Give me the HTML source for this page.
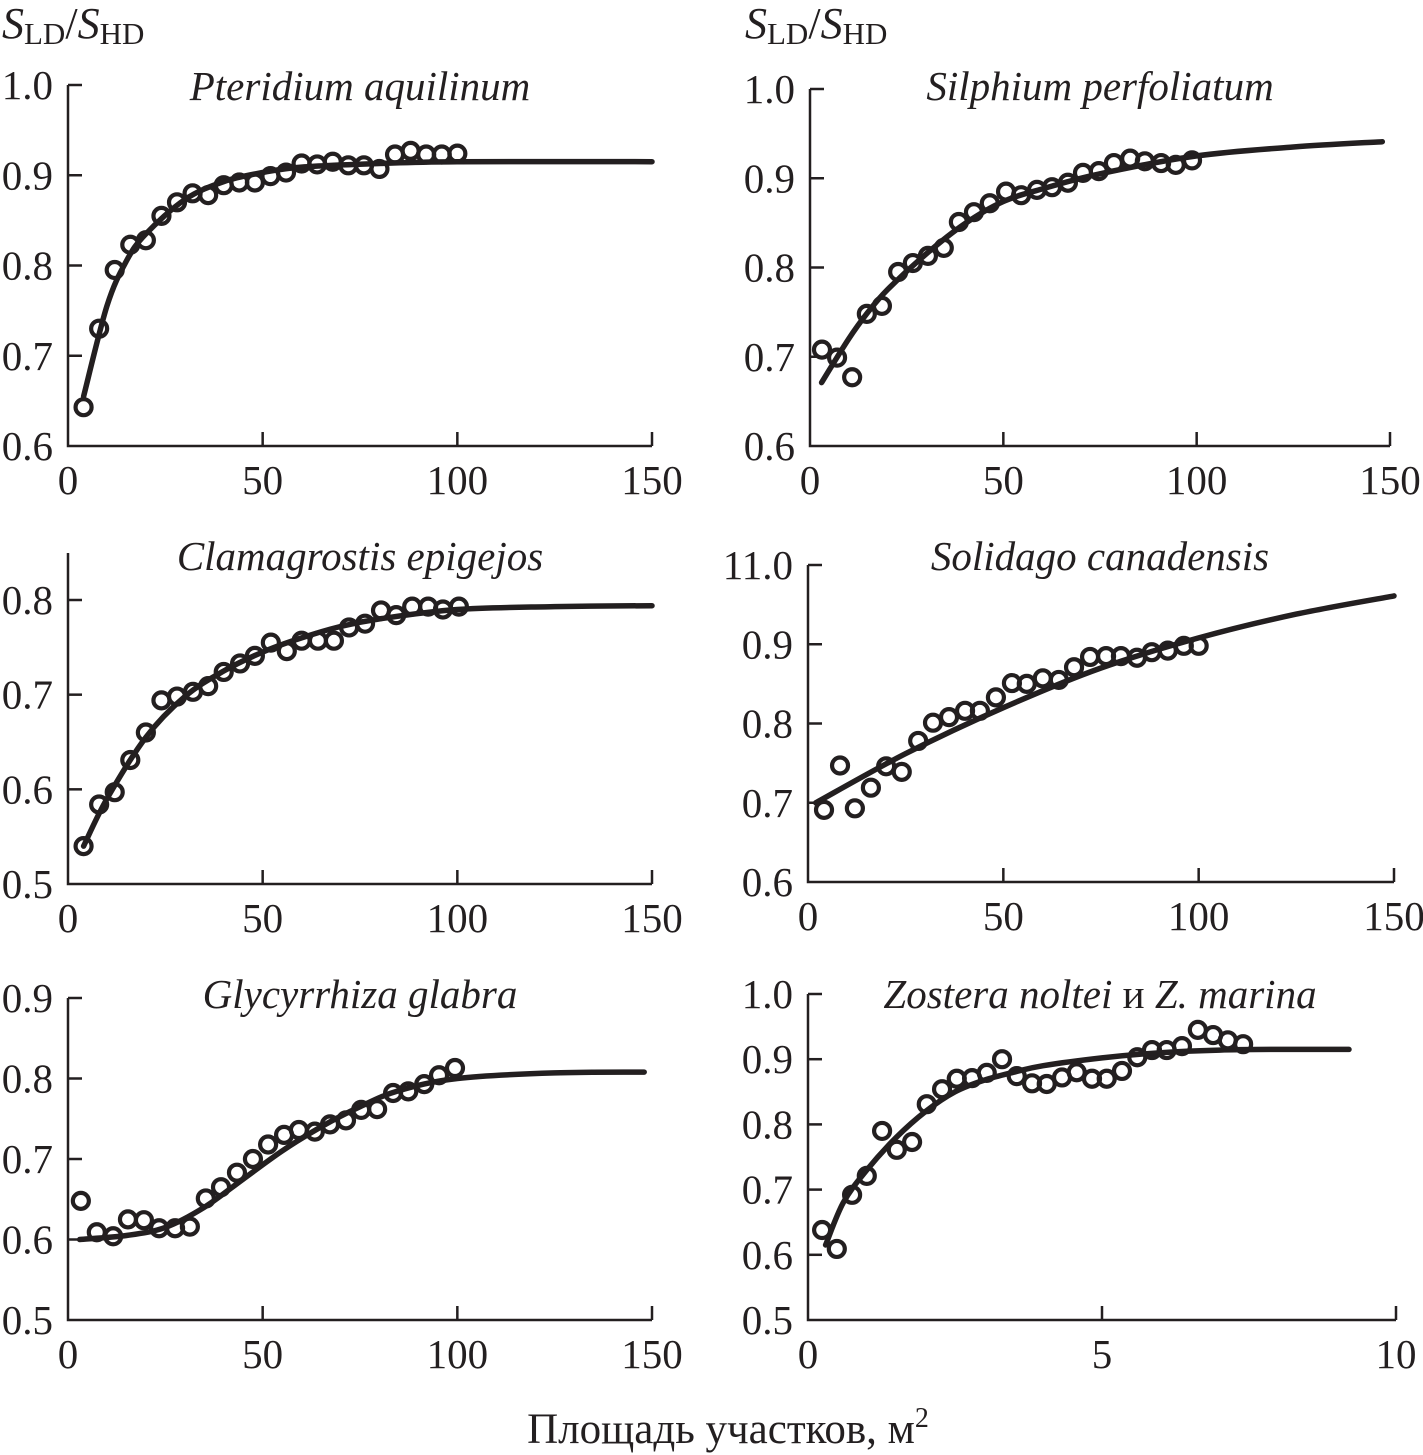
<!DOCTYPE html>
<html><head><meta charset="utf-8">
<style>
html,body{margin:0;padding:0;background:#fff;}
svg{display:block;font-family:"Liberation Serif","Noto Serif CJK SC",serif;}
</style></head>
<body>
<svg id="chart" width="1423" height="1455" viewBox="0 0 1423 1455" xmlns="http://www.w3.org/2000/svg">
<text x="2" y="38" font-size="44" fill="#231f20"><tspan font-style="italic">S</tspan><tspan font-size="31" dy="6">LD</tspan><tspan dy="-6">/</tspan><tspan font-style="italic">S</tspan><tspan font-size="31" dy="6">HD</tspan></text>
<text x="745" y="38" font-size="44" fill="#231f20"><tspan font-style="italic">S</tspan><tspan font-size="31" dy="6">LD</tspan><tspan dy="-6">/</tspan><tspan font-style="italic">S</tspan><tspan font-size="31" dy="6">HD</tspan></text>
<text x="728" y="1443" font-size="43" fill="#231f20" text-anchor="middle">Площадь участков, м<tspan font-size="28" dy="-16">2</tspan></text>
</svg>
<script>
// Panel 1: Pteridium aquilinum
const p1X = [4,8,12,16,20,24,28,32,36,40,44,48,52,56,60,64,68,72,76,80,84,88,92,96,100];
const p1Y = [0.643,0.73,0.795,0.823,0.828,0.855,0.87,0.88,0.878,0.889,0.892,0.892,0.899,0.903,0.913,0.912,0.915,0.911,0.911,0.907,0.923,0.927,0.923,0.923,0.924];
const p1CurveX = [4,10,15,20,30,40,50,60,80,100,150];
const p1CurveY = [0.655,0.755,0.805,0.835,0.873,0.893,0.903,0.909,0.913,0.915,0.915];
// Panel 2: Silphium perfoliatum
const p2X = [3.1,7,10.9,14.7,18.6,22.8,26.6,30.5,34.6,38.5,42.4,46.5,50.7,54.6,58.7,62.6,66.7,70.6,74.7,78.6,82.8,86.6,90.8,94.6,98.8];
const p2Y = [0.708,0.699,0.677,0.748,0.757,0.795,0.805,0.813,0.822,0.851,0.862,0.872,0.885,0.881,0.887,0.89,0.895,0.906,0.908,0.917,0.922,0.919,0.917,0.915,0.92];
const p2CurveX = [3,10,15,20,30,40,50,60,75,100,125,148];
const p2CurveY = [0.671,0.72,0.75,0.775,0.815,0.849,0.874,0.888,0.905,0.925,0.935,0.941];
// Panel 3: Clamagrostis epigejos
const p3X = [4,8,12,16,20,24,28,32.1,36,40,44.2,48,52.1,56.2,60,64.2,68.3,72.2,76.3,80.4,84.3,88.4,92.5,96.3,100.4];
const p3Y = [0.54,0.584,0.597,0.631,0.66,0.694,0.698,0.703,0.709,0.724,0.733,0.741,0.755,0.746,0.757,0.757,0.757,0.771,0.775,0.789,0.784,0.793,0.793,0.79,0.793];
const p3CurveX = [4,10,20,30,40,50,60,70,80,100,125,150];
const p3CurveY = [0.54,0.59,0.655,0.698,0.725,0.745,0.76,0.772,0.78,0.79,0.793,0.794];
// Panel 4: Solidago canadensis
const p4X = [4.1,8.2,12,16.1,20,24,28.2,32,36.1,40.2,44,48.1,52.2,56,60.1,64.2,68.1,72.2,76.3,80.1,84.2,88,92.1,96.2,100];
const p4Y = [0.691,0.747,0.693,0.719,0.746,0.739,0.778,0.801,0.808,0.816,0.816,0.833,0.851,0.85,0.857,0.855,0.871,0.884,0.885,0.885,0.883,0.89,0.892,0.898,0.898];
const p4CurveX = [2,25,50,75,100,125,150];
const p4CurveY = [0.70,0.762,0.82,0.87,0.908,0.938,0.961];
// Panel 5: Glycyrrhiza glabra
const p5X = [3.3,7.4,11.6,15.4,19.5,23.4,27.5,31.3,35.4,39.3,43.4,47.5,51.4,55.5,59.3,63.4,67.3,71.4,75.3,79.4,83.5,87.4,91.5,95.3,99.4];
const p5Y = [0.648,0.609,0.604,0.625,0.624,0.614,0.614,0.616,0.651,0.665,0.683,0.7,0.718,0.73,0.736,0.734,0.743,0.748,0.761,0.762,0.782,0.784,0.793,0.804,0.813];
const p5CurveX = [3,15,25,35,45,55,65,75,85,100,125,148];
const p5CurveY = [0.60,0.605,0.615,0.64,0.675,0.71,0.74,0.765,0.785,0.80,0.807,0.808];
// Panel 6: Zostera
const p6X = [0.24,0.49,0.75,1.0,1.26,1.51,1.77,2.02,2.28,2.53,2.79,3.04,3.3,3.55,3.81,4.06,4.32,4.57,4.83,5.08,5.34,5.6,5.85,6.1,6.36,6.63,6.89,7.14,7.4];
const p6Y = [0.638,0.609,0.692,0.721,0.79,0.761,0.773,0.831,0.854,0.87,0.871,0.879,0.9,0.874,0.863,0.862,0.872,0.88,0.87,0.87,0.882,0.903,0.914,0.914,0.92,0.945,0.937,0.929,0.923];
const p6CurveX = [0.3,0.6,1,1.5,2,2.5,3,3.5,4,5,6,7,8,9.2];
const p6CurveY = [0.615,0.68,0.73,0.78,0.82,0.85,0.868,0.88,0.89,0.902,0.91,0.914,0.915,0.915];

const xTicks150 = [0,50,100,150];
const xTicks10 = [0,5,10];
const yTicksA = [0.6,0.7,0.8,0.9,1.0];
const yTicksB = [0.5,0.6,0.7,0.8];
const yTicksC = [0.6,0.7,0.8,0.9,1.0];
const yLabelsC = ["0.6","0.7","0.8","0.9","11.0"];
const yTicksD = [0.5,0.6,0.7,0.8,0.9];
const yTicksE = [0.5,0.6,0.7,0.8,0.9,1.0];

const NS = "http://www.w3.org/2000/svg";
const svg = document.getElementById('chart');
const INK = "#231f20";
function mk(tag, attrs, parent){
  const e = document.createElementNS(NS, tag);
  for (const k in attrs) e.setAttribute(k, attrs[k]);
  (parent||svg).appendChild(e);
  return e;
}
function smoothPath(pts){
  let d = "M" + pts[0][0].toFixed(1) + "," + pts[0][1].toFixed(1);
  for (let i=0;i<pts.length-1;i++){
    const p0 = pts[Math.max(0,i-1)], p1 = pts[i], p2 = pts[i+1], p3 = pts[Math.min(pts.length-1,i+2)];
    const c1x = p1[0] + (p2[0]-p0[0])/6, c1y = p1[1] + (p2[1]-p0[1])/6;
    const c2x = p2[0] - (p3[0]-p1[0])/6, c2y = p2[1] - (p3[1]-p1[1])/6;
    d += " C" + c1x.toFixed(1)+","+c1y.toFixed(1)+" "+c2x.toFixed(1)+","+c2y.toFixed(1)+" "+p2[0].toFixed(1)+","+p2[1].toFixed(1);
  }
  return d;
}
function panel(cfg){
  const g = mk('g', {});
  
  
  const sx = v => cfg.x0 + (v - cfg.xmin)/(cfg.xmax - cfg.xmin)*(cfg.x1 - cfg.x0);
  const sy = v => cfg.y0 - (v - cfg.ymin)/(cfg.ymax - cfg.ymin)*(cfg.y0 - cfg.y1);
  const axis = mk('path', {d:`M${cfg.x0},${cfg.axTop} L${cfg.x0},${cfg.y0} L${sx(cfg.xmax)},${cfg.y0}`, fill:'none', stroke:INK, 'stroke-width':2.5}, g);
  
  
  cfg.yTicks.forEach((t,i)=>{
    const y = sy(t);
    if (t !== cfg.ymin) {
      const tk = mk('line', {x1:cfg.x0, x2:cfg.x0+14, y1:y, y2:y, stroke:INK, 'stroke-width':2.5}, g);
      
      
    }
    const lb = mk('text', {x:cfg.x0-15, y:y+14, 'font-size':41, 'text-anchor':'end', fill:INK}, g);
    lb.textContent = cfg.yLabels ? cfg.yLabels[i] : t.toFixed(1);
    
    
  });
  cfg.xTicks.forEach(t=>{
    const x = sx(t);
    if (t !== cfg.xmin) {
      const tk = mk('line', {x1:x, x2:x, y1:cfg.y0, y2:cfg.y0-14, stroke:INK, 'stroke-width':2.5}, g);
      
      
    }
    const lb = mk('text', {x:x, y:cfg.y0+48, 'font-size':41, 'text-anchor':'middle', fill:INK}, g);
    lb.textContent = String(t);
    
    
  });
  const ti = mk('text', {x:cfg.titleX, y:cfg.titleY, 'font-size':41, 'font-style':'italic', 'text-anchor':'middle', fill:INK}, g);
  ti.innerHTML = cfg.title;
  
  
  const pts = cfg.cx.map((v,i)=>[sx(v), sy(cfg.cy[i])]);
  const cv = mk('path', {d:smoothPath(pts), fill:'none', stroke:INK, 'stroke-width':5.5, 'stroke-linecap':'round'}, g);
  
  
  cfg.px.forEach((v,i)=>{
    const c = mk('circle', {cx:sx(v), cy:sy(cfg.py[i]), r:8, fill:'none', stroke:INK, 'stroke-width':4.2}, g);
    
    
  });
}
panel({name:'panel-pteridium', x0:68, x1:652, xmin:0, xmax:150, y0:446, y1:85, ymin:0.6, ymax:1.0, axTop:85, xTicks:xTicks150, yTicks:yTicksA, title:'Pteridium aquilinum', titleX:360, titleY:100, px:p1X, py:p1Y, cx:p1CurveX, cy:p1CurveY});
panel({name:'panel-silphium', x0:810, x1:1390, xmin:0, xmax:150, y0:446, y1:89, ymin:0.6, ymax:1.0, axTop:89, xTicks:xTicks150, yTicks:yTicksA, title:'Silphium perfoliatum', titleX:1100, titleY:100, px:p2X, py:p2Y, cx:p2CurveX, cy:p2CurveY});
panel({name:'panel-clamagrostis', x0:68, x1:652, xmin:0, xmax:150, y0:884, y1:600, ymin:0.5, ymax:0.8, axTop:553, xTicks:xTicks150, yTicks:yTicksB, title:'Clamagrostis epigejos', titleX:360, titleY:570, px:p3X, py:p3Y, cx:p3CurveX, cy:p3CurveY});
panel({name:'panel-solidago', x0:808, x1:1394, xmin:0, xmax:150, y0:882, y1:565, ymin:0.6, ymax:1.0, axTop:565, xTicks:xTicks150, yTicks:yTicksC, yLabels:yLabelsC, title:'Solidago canadensis', titleX:1100, titleY:570, px:p4X, py:p4Y, cx:p4CurveX, cy:p4CurveY});
panel({name:'panel-glycyrrhiza', x0:68, x1:652, xmin:0, xmax:150, y0:1320, y1:998, ymin:0.5, ymax:0.9, axTop:998, xTicks:xTicks150, yTicks:yTicksD, title:'Glycyrrhiza glabra', titleX:360, titleY:1008, px:p5X, py:p5Y, cx:p5CurveX, cy:p5CurveY});
panel({name:'panel-zostera', x0:808, x1:1396, xmin:0, xmax:10, y0:1320, y1:994, ymin:0.5, ymax:1.0, axTop:994, xTicks:xTicks10, yTicks:yTicksE, title:'Zostera noltei <tspan font-style="normal">и</tspan> Z. marina', titleX:1100, titleY:1008, px:p6X, py:p6Y, cx:p6CurveX, cy:p6CurveY});
</script>
</body></html>
